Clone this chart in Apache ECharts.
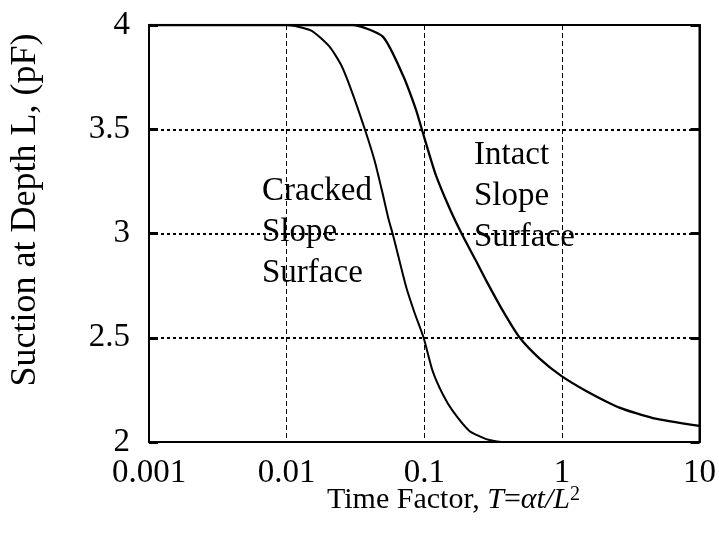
<!DOCTYPE html>
<html>
<head>
<meta charset="utf-8">
<script src="https://cdn.jsdelivr.net/npm/echarts@6/dist/echarts.min.js"></script>
<style>
  html, body { margin: 0; padding: 0; background: #fff; }
  #chart { width: 719px; height: 539px; }
</style>
</head>
<body>
<div id="chart"></div>
<script>
// Time factor T (log scale) and suction (pF) for the two slope surfaces
const crackedT = [0.001, 0.01, 0.0151, 0.0205, 0.0249, 0.0295, 0.037, 0.0435, 0.0495, 0.0553, 0.0589, 0.066, 0.074, 0.085, 0.099, 0.115, 0.136, 0.161, 0.213, 0.282, 0.371, 1, 10];
const crackedPF = [4, 4, 3.973, 3.896, 3.808, 3.688, 3.5, 3.351, 3.20, 3.063, 3.0, 2.87, 2.742, 2.62, 2.5, 2.341, 2.23, 2.149, 2.053, 2.014, 2.0, 2.0, 2.0];

const intactT = [0.001, 0.0301, 0.050, 0.0699, 0.0874, 0.096, 0.12, 0.153, 0.190, 0.235, 0.282, 0.372, 0.493, 0.689, 0.99, 1.50, 2.62, 4.58, 10];
const intactPF = [4, 4, 3.944, 3.760, 3.591, 3.5, 3.29, 3.12, 2.99, 2.875, 2.774, 2.630, 2.501, 2.40, 2.317, 2.245, 2.165, 2.115, 2.077];

const xTickLabels = ['0.001', '0.01', '0.1', '1', '10'];
const yTickLabels = ['2', '2.5', '3', '3.5', '4'];

const crackedLabel = ['Cracked', 'Slope', 'Surface'];
const intactLabel = ['Intact', 'Slope', 'Surface'];

const FONT = '"Liberation Serif", "Times New Roman", serif';

const chart = echarts.init(document.getElementById('chart'), null, { renderer: 'canvas' });

function pairs(xs, ys) { return xs.map((x, i) => [x, ys[i]]); }

const yAxisBase = {
  type: 'value',
  min: 2, max: 4, interval: 0.5,
  axisLine: { show: true, lineStyle: { color: '#000', width: 2 } },
  axisTick: { show: true, inside: true, length: 9, lineStyle: { color: '#000', width: 3 } }
};

const option = {
  backgroundColor: '#fff',
  animation: false,
  grid: { left: 149, right: 19, top: 25, bottom: 97, show: true, borderColor: '#000', borderWidth: 2, backgroundColor: 'transparent' },
  xAxis: {
    type: 'log', logBase: 10, min: 0.001, max: 10,
    axisLine: { show: true, onZero: false, lineStyle: { color: '#000', width: 2 } },
    axisTick: { show: false },
    minorTick: { show: false },
    axisLabel: {
      margin: 15, color: '#000', fontFamily: FONT, fontSize: 33,
      formatter: (v, i) => xTickLabels[i]
    },
    splitLine: { show: true, lineStyle: { color: '#000', width: 1, type: [5, 3] } }
  },
  yAxis: [
    Object.assign({}, yAxisBase, {
      position: 'left',
      axisLabel: { margin: 19, color: '#000', fontFamily: FONT, fontSize: 33, formatter: (v, i) => yTickLabels[i] },
      splitLine: { show: true, lineStyle: { color: '#000', width: 2, type: [3, 3] } }
    }),
    Object.assign({}, yAxisBase, {
      position: 'right',
      axisLabel: { show: false },
      splitLine: { show: false }
    })
  ],
  series: [
    {
      name: 'Cracked Slope Surface', type: 'line', data: pairs(crackedT, crackedPF),
      showSymbol: false, smooth: 0.2, clip: true,
      lineStyle: { color: '#000', width: 2 }
    },
    {
      name: 'Intact Slope Surface', type: 'line', data: pairs(intactT, intactPF),
      showSymbol: false, smooth: 0.2, clip: true,
      lineStyle: { color: '#000', width: 2.3 }
    }
  ],
  graphic: [
    {
      type: 'text', z: 10, x: 26, y: 210, rotation: Math.PI / 2,
      style: { text: 'Suction at Depth L, (pF)', font: '36px ' + FONT, fill: '#000', align: 'center', verticalAlign: 'middle' }
    },
    {
      type: 'text', z: 10, x: 327, y: 515,
      style: {
        text: '{a|Time Factor, }{i|T}{a|=}{i|αt/L}{s|2}',
        fill: '#000', verticalAlign: 'bottom',
        rich: {
          a: { font: '30px ' + FONT, fill: '#000', verticalAlign: 'bottom' },
          i: { font: 'italic 30px ' + FONT, fill: '#000', verticalAlign: 'bottom' },
          s: { font: '20px ' + FONT, fill: '#000', verticalAlign: 'top', padding: [0, 0, 8, 0] }
        }
      }
    },
    {
      type: 'text', z: 10, x: 262, y: 171,
      style: { text: crackedLabel.join('\n'), font: '33px ' + FONT, lineHeight: 41, fill: '#000' }
    },
    {
      type: 'text', z: 10, x: 474, y: 135,
      style: { text: intactLabel.join('\n'), font: '33px ' + FONT, lineHeight: 41, fill: '#000' }
    }
  ]
};

chart.setOption(option);
</script>
</body>
</html>
